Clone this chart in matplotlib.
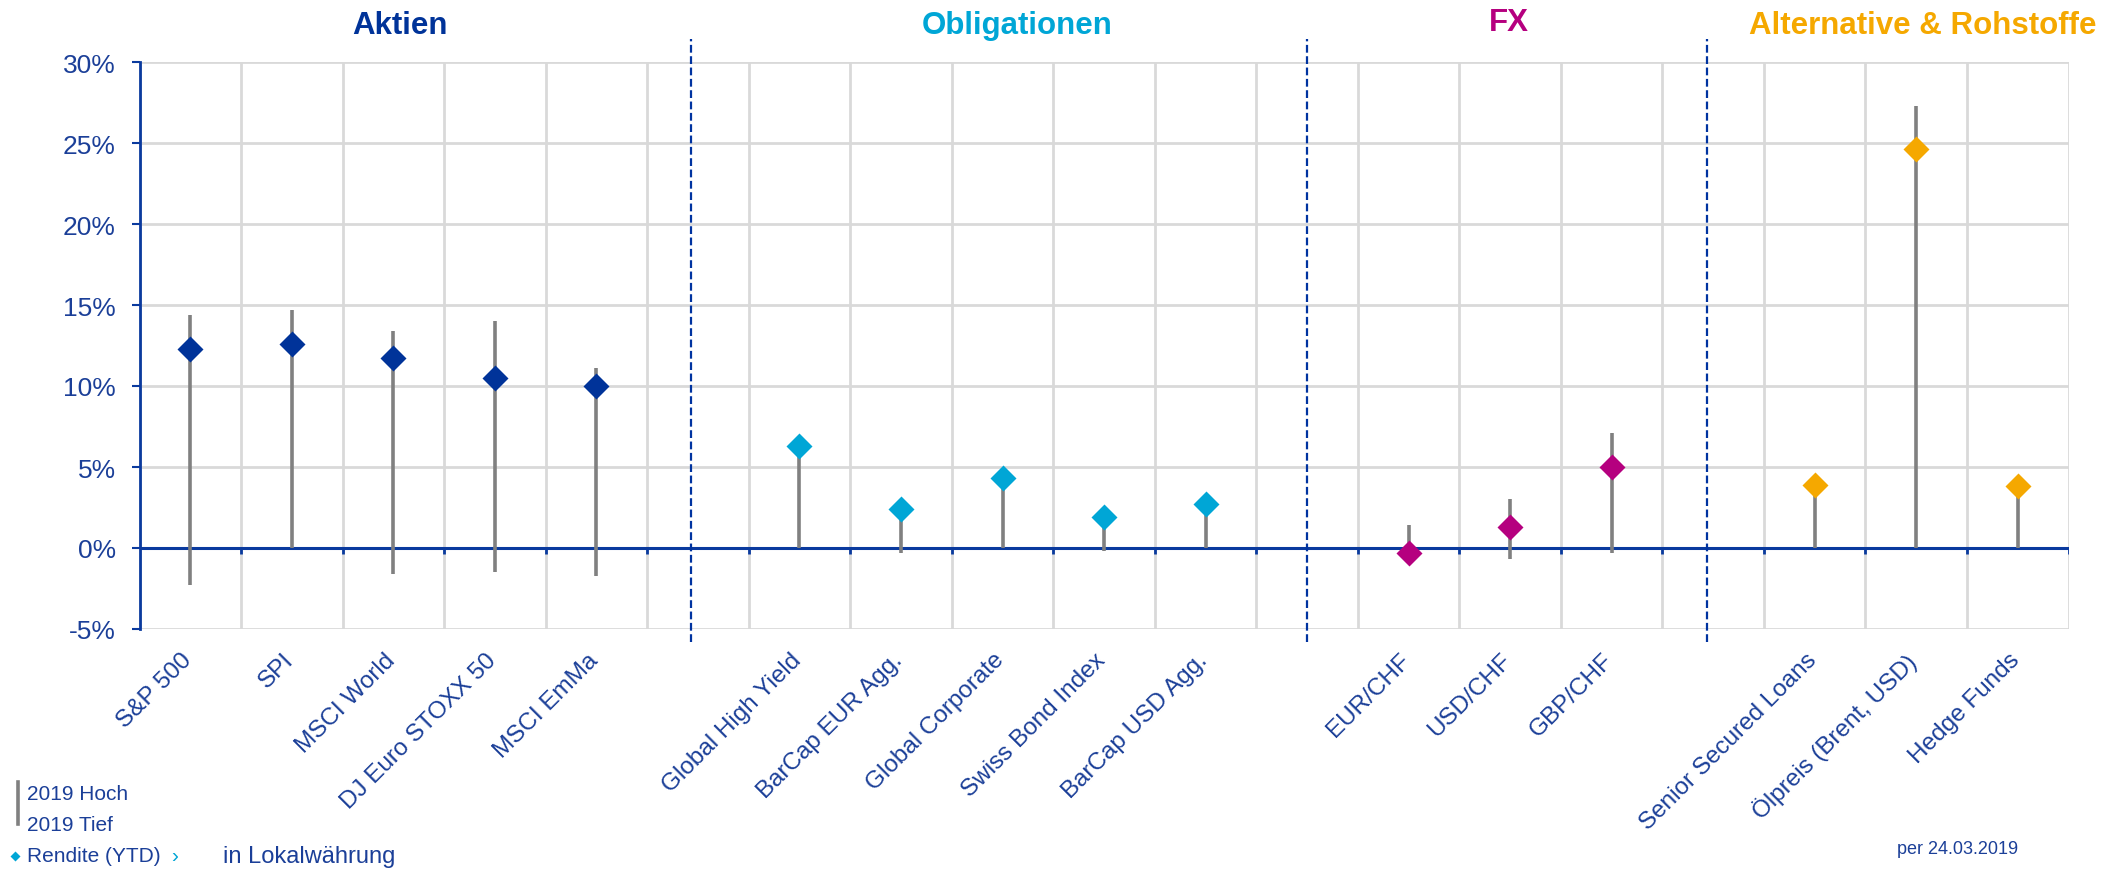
import numpy as np
import matplotlib
matplotlib.use("Agg")
import matplotlib.pyplot as plt
from matplotlib.lines import Line2D
from matplotlib.ticker import FuncFormatter
from matplotlib.transforms import ScaledTranslation

plt.rcParams['font.family'] = ['Liberation Sans', 'DejaVu Sans']

# ---- data ----
categories = ["S&P 500", "SPI", "MSCI World", "DJ Euro STOXX 50", "MSCI EmMa", "",
              "Global High Yield", "BarCap EUR Agg.", "Global Corporate", "Swiss Bond Index",
              "BarCap USD Agg.", "",
              "EUR/CHF", "USD/CHF", "GBP/CHF", "",
              "Senior Secured Loans", "Ölpreis (Brent, USD)", "Hedge Funds"]
ytd = [12.3, 12.6, 11.7, 10.5, 10.0, np.nan,
       6.3, 2.4, 4.3, 1.9, 2.7, np.nan,
       -0.3, 1.3, 5.0, np.nan,
       3.9, 24.6, 3.8]
high_2019 = [14.4, 14.7, 13.4, 14.0, 11.1, np.nan,
             6.3, 2.4, 4.3, 1.9, 2.7, np.nan,
             1.4, 3.0, 7.1, np.nan,
             3.9, 27.3, 3.8]
low_2019 = [-2.3, 0.0, -1.6, -1.5, -1.7, np.nan,
            0.0, -0.3, 0.0, -0.2, 0.0, np.nan,
            -0.3, -0.7, -0.3, np.nan,
            0.0, 0.0, 0.0]
groups = ["Aktien"] * 6 + ["Obligationen"] * 6 + ["FX"] * 4 + ["Alternative & Rohstoffe"] * 3
group_names = ["Aktien", "Obligationen", "FX", "Alternative & Rohstoffe"]
group_colors = {"Aktien": "#003399", "Obligationen": "#00a6d6",
                "FX": "#b5007f", "Alternative & Rohstoffe": "#f5a800"}
separators = [4.93, 11.0, 14.94]
yticks = [-5, 0, 5, 10, 15, 20, 25, 30]

TXT = "#1b3f98"
GRID = "#d9d9d9"
STEM = "#808080"
AXBLUE = "#0a3a9e"

W, H = 2126, 870
fig = plt.figure(figsize=(W / 100, H / 100), dpi=100)
ax = fig.add_axes([139.6 / W, 1 - 630 / H, (2068.5 - 139.6) / W, (630 - 63) / H])

n = len(categories)
x = np.arange(n)
ax.set_xlim(-0.5, n - 0.5)
ax.set_ylim(-5, 30)

# grid
for v in yticks:
    if v != 0:
        ax.axhline(v, color=GRID, lw=2, zorder=0)
for b in np.arange(-0.5, n, 1.0):
    ax.axvline(b, color=GRID, lw=2, zorder=0)

# zero line with boundary ticks
ax.axhline(0, color=AXBLUE, lw=2.2, zorder=2)
ax.vlines(np.arange(0.5, n, 1.0), -0.38, 0, color=AXBLUE, lw=2, zorder=2)

# stems and diamonds
ax.vlines(x, low_2019, high_2019, color=STEM, lw=2.6, zorder=3)
for xi, v, g in zip(x, ytd, groups):
    if np.isnan(v):
        continue
    ax.plot(xi, v, marker='D', ms=13.5, color=group_colors[g], mec='none', zorder=4)

# separators
for s in separators:
    ax.plot([s, s], [-5.8, 31.4], color="#0033a0", lw=1.6, ls=(0, (3.5, 1.6)),
            clip_on=False, zorder=5)

# spines
for sp in ['top', 'right', 'bottom']:
    ax.spines[sp].set_visible(False)
ax.spines['left'].set_color(AXBLUE)
ax.spines['left'].set_linewidth(2)

ax.set_yticks(yticks)
ax.yaxis.set_major_formatter(FuncFormatter(lambda v, p: f"{v:.0f}%"))
ax.tick_params(axis='y', direction='out', length=6, width=1.5, color=AXBLUE,
               labelsize=19, labelcolor=TXT, pad=11)
ax.set_xticks(x)
ax.set_xticklabels(categories, rotation=45, ha='right', fontsize=17.5, color=TXT)
ax.tick_params(axis='x', length=0, pad=14)
shift = ScaledTranslation(6 / 100, 0, fig.dpi_scale_trans)
for lbl in ax.get_xticklabels():
    lbl.set_transform(lbl.get_transform() + shift)

# group titles
title_pos = {"Aktien": (400, 26), "Obligationen": (1017, 26), "FX": (1509, 23),
             "Alternative & Rohstoffe": (1923, 26)}
for g in group_names:
    px, py = title_pos[g]
    fig.text(px / W, 1 - py / H, g, color=group_colors[g], fontsize=22.5,
             fontweight='bold', ha='center', va='center')

# legend-like notes
fig.add_artist(Line2D([18 / W, 18 / W], [1 - 783 / H, 1 - 825 / H], color=STEM, lw=2.6))
fig.text(27 / W, 1 - 795 / H, "2019 Hoch", color=TXT, fontsize=15, va='center')
fig.text(27 / W, 1 - 826 / H, "2019 Tief", color=TXT, fontsize=15, va='center')
fig.add_artist(Line2D([15 / W], [1 - 857 / H], marker='D', ms=5, color="#00a6d6", mec='none'))
fig.text(27 / W, 1 - 857 / H, "Rendite (YTD)", color=TXT, fontsize=15, va='center')
fig.text(171 / W, 1 - 857 / H, "›", color="#00a6d6", fontsize=15, va='center')
fig.text(223 / W, 1 - 857 / H, "in Lokalwährung", color=TXT, fontsize=17, va='center')
fig.text(1897 / W, 1 - 850 / H, "per 24.03.2019", color=TXT, fontsize=13, va='center')

fig.savefig("out.png", dpi=100)
